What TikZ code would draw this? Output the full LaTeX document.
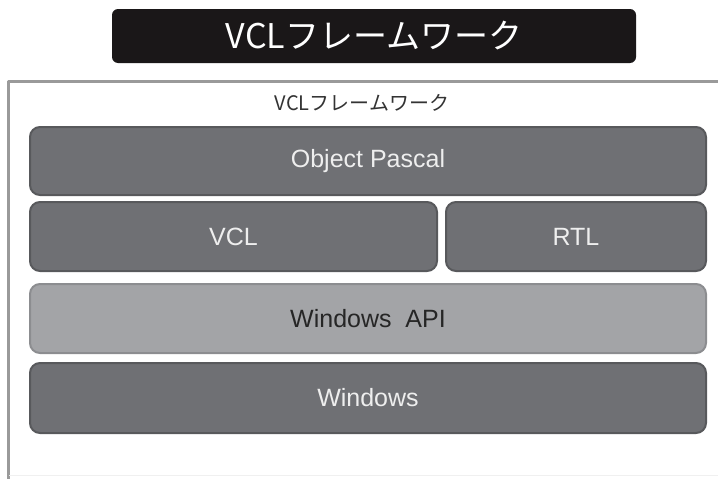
\documentclass[tikz,border=0pt]{standalone}
\usepackage{fontspec}
\setmainfont{Liberation Sans}
\newfontfamily\jpfont{Noto Sans CJK JP}
\definecolor{darkfill}{HTML}{6F7074}
\definecolor{darkedge}{HTML}{58595C}
\definecolor{lightfill}{HTML}{A3A4A7}
\definecolor{lightedge}{HTML}{8C8D90}
\definecolor{paletext}{HTML}{EEEEEE}
\definecolor{titlefill}{HTML}{1A1718}
\definecolor{framegray}{HTML}{9A9A9A}
\begin{document}
\begin{tikzpicture}[x=1pt, y=-1pt, line join=round, line cap=round,
    font=\fontsize{25}{28}\selectfont,
    darklayer/.style={draw=darkedge, fill=darkfill, text=paletext, line width=2pt,
      rounded corners=10pt, inner sep=0pt, minimum height=68pt},
    lightlayer/.style={darklayer, draw=lightedge, fill=lightfill, text=black!85}]
    \useasboundingbox (0,0) rectangle (718,479);
    % outer frame
    \draw[framegray, line width=3pt] (8,479) -- (8,81) -- (718,81);
    \draw[gray!12, line width=1pt] (9.5,475) -- (718,475);
    % title and caption
    \node[fill=titlefill, text=white, rounded corners=6pt, minimum width=524pt,
      minimum height=54pt, inner sep=0pt, font=\jpfont\fontsize{34}{38}\selectfont]
      (title) at (374,36) {VCLフレームワーク};
    \node[text=black!80, font=\jpfont\fontsize{20}{22}\selectfont]
      (caption) at (362,103) {VCLフレームワーク};
    % layers
    \node[darklayer, minimum width=676pt] (pascal) at (368,161) {Object Pascal};
    \node[darklayer, minimum width=407pt, minimum height=69pt] (vcl) at (233.5,236.5) {VCL};
    \node[darklayer, minimum width=260pt, minimum height=69pt] (rtl) at (576,236.5) {RTL};
    \node[lightlayer, minimum width=676pt, minimum height=69pt] (api) at (368,318.5) {Windows~~API};
    \node[darklayer, minimum width=676pt, minimum height=70pt] (win) at (368,398) {Windows};
\end{tikzpicture}
\end{document}
